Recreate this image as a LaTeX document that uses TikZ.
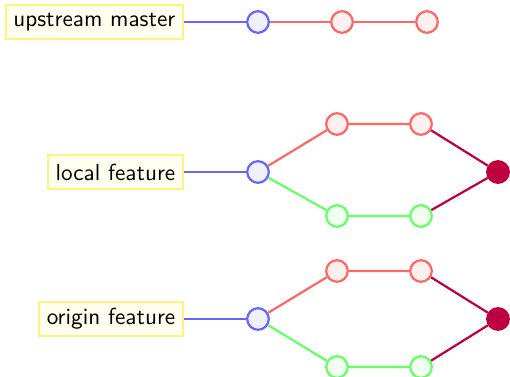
\documentclass[tikz,border=0pt]{standalone}
\definecolor{bluec}{HTML}{6666FF}
\definecolor{bluef}{HTML}{F0F0FF}
\definecolor{redc}{HTML}{FF6666}
\definecolor{redf}{HTML}{FFF0F0}
\definecolor{greenc}{HTML}{66FF66}
\definecolor{greenf}{HTML}{F0FFF0}
\definecolor{mergec}{HTML}{BF0040}
\definecolor{labelc}{HTML}{FFF380}
\definecolor{labelf}{HTML}{FFFFF0}
\tikzset{
  commit/.style={circle, draw, line width=0.95pt, minimum size=9.3pt, inner sep=0pt},
  bluecommit/.style={commit, draw=bluec, fill=bluef},
  redcommit/.style={commit, draw=redc, fill=redf},
  greencommit/.style={commit, draw=greenc, fill=greenf},
  mergecommit/.style={commit, draw=mergec, fill=mergec},
  branchlabel/.style={draw=labelc, fill=labelf, line width=0.95pt, font=\sffamily,
    inner xsep=3.3pt, inner ysep=0pt, minimum height=14.5pt, anchor=east},
  edge/.style={line width=0.95pt},
}
\begin{document}
\begin{tikzpicture}[x=0.431pt, y=-0.431pt]
\useasboundingbox (0,0) rectangle (510,377);
% upstream master
\node[branchlabel] (um) at (184,22) {upstream master};
\node[bluecommit] (u1) at (258,22) {};
\node[redcommit] (u2) at (342,22) {};
\node[redcommit] (u3) at (427,22) {};
\draw[edge, bluec] (um) -- (u1);
\draw[edge, redc] (u1) -- (u2) -- (u3);
% local feature
\node[branchlabel] (lf) at (184,172) {local feature};
\node[bluecommit] (l0) at (258,172) {};
\node[redcommit] (lr1) at (337,124) {};
\node[redcommit] (lr2) at (421,124) {};
\node[greencommit] (lg1) at (337,216) {};
\node[greencommit] (lg2) at (421,216) {};
\node[mergecommit] (lm) at (498,172) {};
\draw[edge, bluec] (lf) -- (l0);
\draw[edge, redc] (l0) -- (lr1) -- (lr2);
\draw[edge, greenc] (l0) -- (lg1) -- (lg2);
\draw[edge, mergec] (lr2) -- (lm);
\draw[edge, mergec] (lg2) -- (lm);
% origin feature
\node[branchlabel] (of) at (184,319) {origin feature};
\node[bluecommit] (o0) at (258,319) {};
\node[redcommit] (or1) at (337,271) {};
\node[redcommit] (or2) at (421,271) {};
\node[greencommit] (og1) at (337,367) {};
\node[greencommit] (og2) at (421,367) {};
\node[mergecommit] (om) at (498,319) {};
\draw[edge, bluec] (of) -- (o0);
\draw[edge, redc] (o0) -- (or1) -- (or2);
\draw[edge, greenc] (o0) -- (og1) -- (og2);
\draw[edge, mergec] (or2) -- (om);
\draw[edge, mergec] (og2) -- (om);
\end{tikzpicture}
\end{document}
